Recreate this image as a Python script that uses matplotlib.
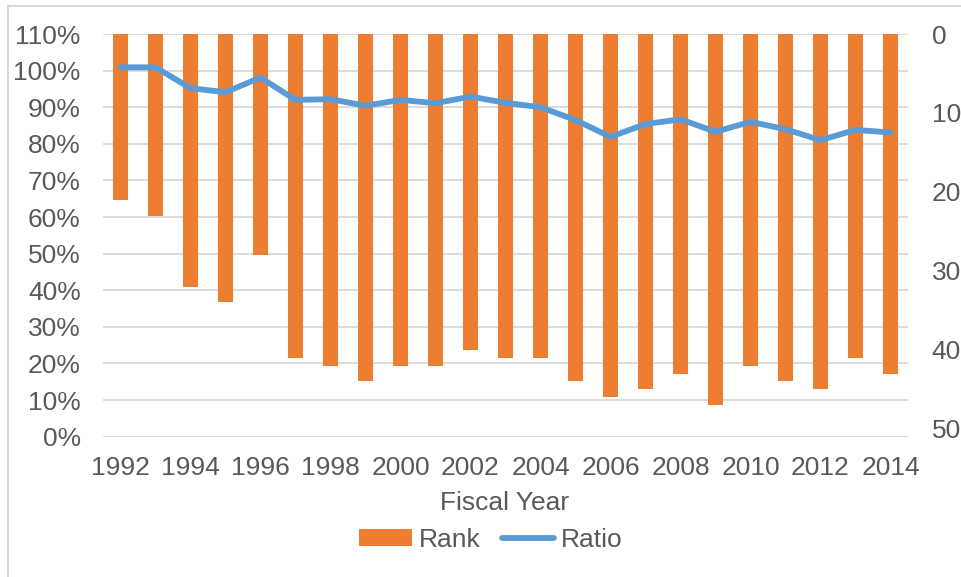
import matplotlib
matplotlib.use("Agg")
import matplotlib.pyplot as plt
from matplotlib.lines import Line2D
from matplotlib.patches import Patch
import numpy as np

years = list(range(1992, 2015))
rank = [21, 23, 32, 34, 28, 41, 42, 44, 42, 42, 40, 41, 41, 44, 46, 45, 43, 47, 42, 44, 45, 41, 43]
ratio = [1.009, 1.009, 0.952, 0.941, 0.981, 0.920, 0.922, 0.904, 0.920, 0.911, 0.929,
         0.912, 0.900, 0.865, 0.819, 0.854, 0.867, 0.833, 0.860, 0.840, 0.810, 0.838, 0.831]
pct_ticks = [i / 10 for i in range(12)]
rank_ticks = [0, 10, 20, 30, 40, 50]

TXT = "#595959"
GRID = "#D9D9D9"
ORANGE = "#ED7D31"
BLUE = "#5B9BD5"
FS = 19
plt.rcParams["font.family"] = ["Liberation Sans", "DejaVu Sans"]

fig = plt.figure(figsize=(9.61, 5.77), dpi=100)
pos = [103 / 961, 1 - 436.7 / 577, (908 - 103) / 961, (436.7 - 34) / 577]
ax = fig.add_axes(pos)
x = np.arange(len(years))

# base axis: percent grid + left ticks
ax.set_ylim(0, 1.1)
ax.set_yticks(pct_ticks)
ax.set_yticklabels([f"{int(round(t*100))}%" for t in pct_ticks])
ax.grid(axis="y", color=GRID, linewidth=1.3)
ax.set_axisbelow(True)
ax.set_xlim(-0.5, len(years) - 0.5)
ax.set_xticks(x[::2])
ax.set_xticklabels([str(y) for y in years[::2]])
for s in ax.spines.values():
    s.set_visible(False)
ax.tick_params(axis="y", length=0, pad=16, labelsize=FS, labelcolor=TXT)
ax.tick_params(axis="x", length=0, pad=14, labelsize=FS, labelcolor=TXT)

# rank axis (right, inverted) with bars
ax2 = ax.twinx()
ax2.bar(x, rank, width=0.41, color=ORANGE)
ax2.set_ylim(51, 0)
ax2.set_yticks(rank_ticks)
for s in ax2.spines.values():
    s.set_visible(False)
ax2.tick_params(axis="y", length=0, pad=17, labelsize=FS, labelcolor=TXT)

# ratio line on top
ax3 = ax.twinx()
ax3.set_ylim(0, 1.1)
ax3.plot(x, ratio, color=BLUE, linewidth=4.2, solid_capstyle="round", solid_joinstyle="round")
ax3.set_yticks([])
for s in ax3.spines.values():
    s.set_visible(False)

fig.text(505 / 961, 1 - 503 / 577, "Fiscal Year", ha="center", va="center", fontsize=FS, color=TXT)

handles = [Patch(facecolor=ORANGE, edgecolor="none"),
           Line2D([0], [0], color=BLUE, linewidth=4.2, solid_capstyle="round")]
leg = fig.legend(handles, ["Rank", "Ratio"], loc="center", bbox_to_anchor=(491 / 961, 1 - 540 / 577),
                 ncol=2, frameon=False, fontsize=FS, handlelength=2.0, handleheight=0.6,
                 handletextpad=0.25, columnspacing=0.8, labelcolor=TXT)

# chart border
fig.add_artist(Line2D([7.5 / 961, 7.5 / 961], [0, 1 - 5.5 / 577], transform=fig.transFigure, color=GRID, linewidth=1.5))
fig.add_artist(Line2D([7.5 / 961, 1], [1 - 5.5 / 577, 1 - 5.5 / 577], transform=fig.transFigure, color=GRID, linewidth=1.5))

fig.savefig("out.png", dpi=100)
